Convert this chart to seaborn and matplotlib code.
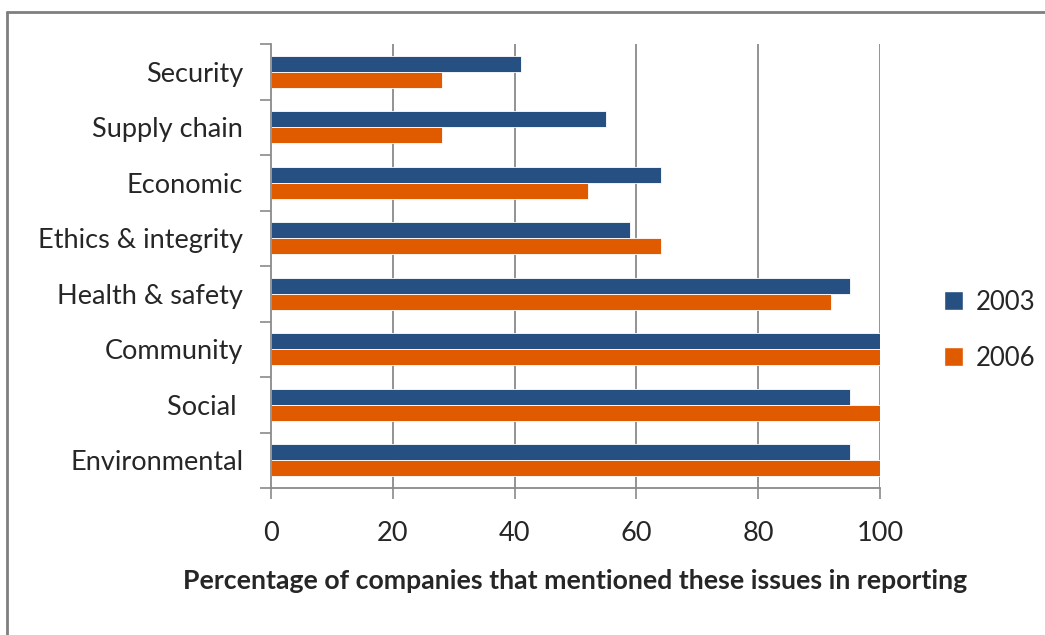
import pandas as pd
import matplotlib
matplotlib.use("Agg")
import matplotlib.pyplot as plt
import seaborn as sns
from matplotlib.lines import Line2D
from matplotlib.patches import Patch

# ========== Data ==========
categories = ["Security", "Supply chain", "Economic", "Ethics & integrity",
              "Health & safety", "Community", "Social ", "Environmental"]
years = ["2003", "2006"]
pct_2003 = [41, 55, 64, 59, 95, 100, 95, 95]
pct_2006 = [28, 28, 52, 64, 92, 100, 100, 100]
x_ticks = [0, 20, 40, 60, 80, 100]
colors = ["#264F82", "#E05A00"]

df = pd.DataFrame({
    "issue": categories * 2,
    "year": [years[0]] * len(categories) + [years[1]] * len(categories),
    "pct": pct_2003 + pct_2006,
})

# ========== Plot ==========
sns.set_style("white")
plt.rcParams["font.family"] = ["Lato", "DejaVu Sans"]

fig = plt.figure(figsize=(10.45, 6.35), dpi=100)
ax = fig.add_axes([271 / 1045, 1 - 488 / 635, 609 / 1045, 444 / 635])

sns.barplot(data=df, y="issue", x="pct", hue="year", order=categories,
            hue_order=years, palette=colors, orient="h", width=0.58,
            edgecolor="white", linewidth=0.6, saturation=1, ax=ax, legend=False)

ax.set_xlim(0, 100)
ax.set_ylim(len(categories) - 0.5, -0.5)
ax.set_xticks(x_ticks)
ax.set_xticklabels([str(t) for t in x_ticks], fontsize=19.5)
ax.tick_params(axis="x", bottom=True, length=8, width=1.2, color="#8a8a8a",
               pad=16)

# category boundary ticks on the y axis, labels centred
ax.set_yticks([i - 0.5 for i in range(len(categories) + 1)], minor=False)
ax.set_yticklabels([])
ax.set_yticks(range(len(categories)), minor=True)
ax.set_yticklabels(categories, minor=True, fontsize=19.5)
ax.tick_params(axis="y", which="major", left=True, length=8, width=1.2,
               color="#8a8a8a")
ax.tick_params(axis="y", which="minor", left=True, length=0, pad=20)

for t in x_ticks[1:]:
    ax.axvline(t, color="#8a8a8a", lw=1.3, zorder=0)

for side in ["top", "right"]:
    ax.spines[side].set_visible(False)
for side in ["left", "bottom"]:
    ax.spines[side].set_color("#8a8a8a")
    ax.spines[side].set_linewidth(1.3)

ax.set_ylabel("")
ax.set_xlabel("Percentage of companies that mentioned these issues in reporting",
              fontsize=19.2, fontweight="bold", labelpad=16)

handles = [Patch(facecolor=c, edgecolor="white") for c in colors]
fig.legend(handles, years, loc="center left", bbox_to_anchor=(944 / 1045, 0.48),
           frameon=False, fontsize=18.5, handlelength=0.75, handleheight=0.75,
           handletextpad=0.5, labelspacing=1.2, borderpad=0, borderaxespad=0)

# outer chart frame (left and top edges visible)
fig.add_artist(Line2D([7 / 1045, 7 / 1045], [0, 1 - 12 / 635],
                      transform=fig.transFigure, color="#7f7f7f", lw=2))
fig.add_artist(Line2D([7 / 1045, 1], [1 - 12 / 635, 1 - 12 / 635],
                      transform=fig.transFigure, color="#7f7f7f", lw=2))

fig.savefig("out.png", dpi=100)
plt.close(fig)
